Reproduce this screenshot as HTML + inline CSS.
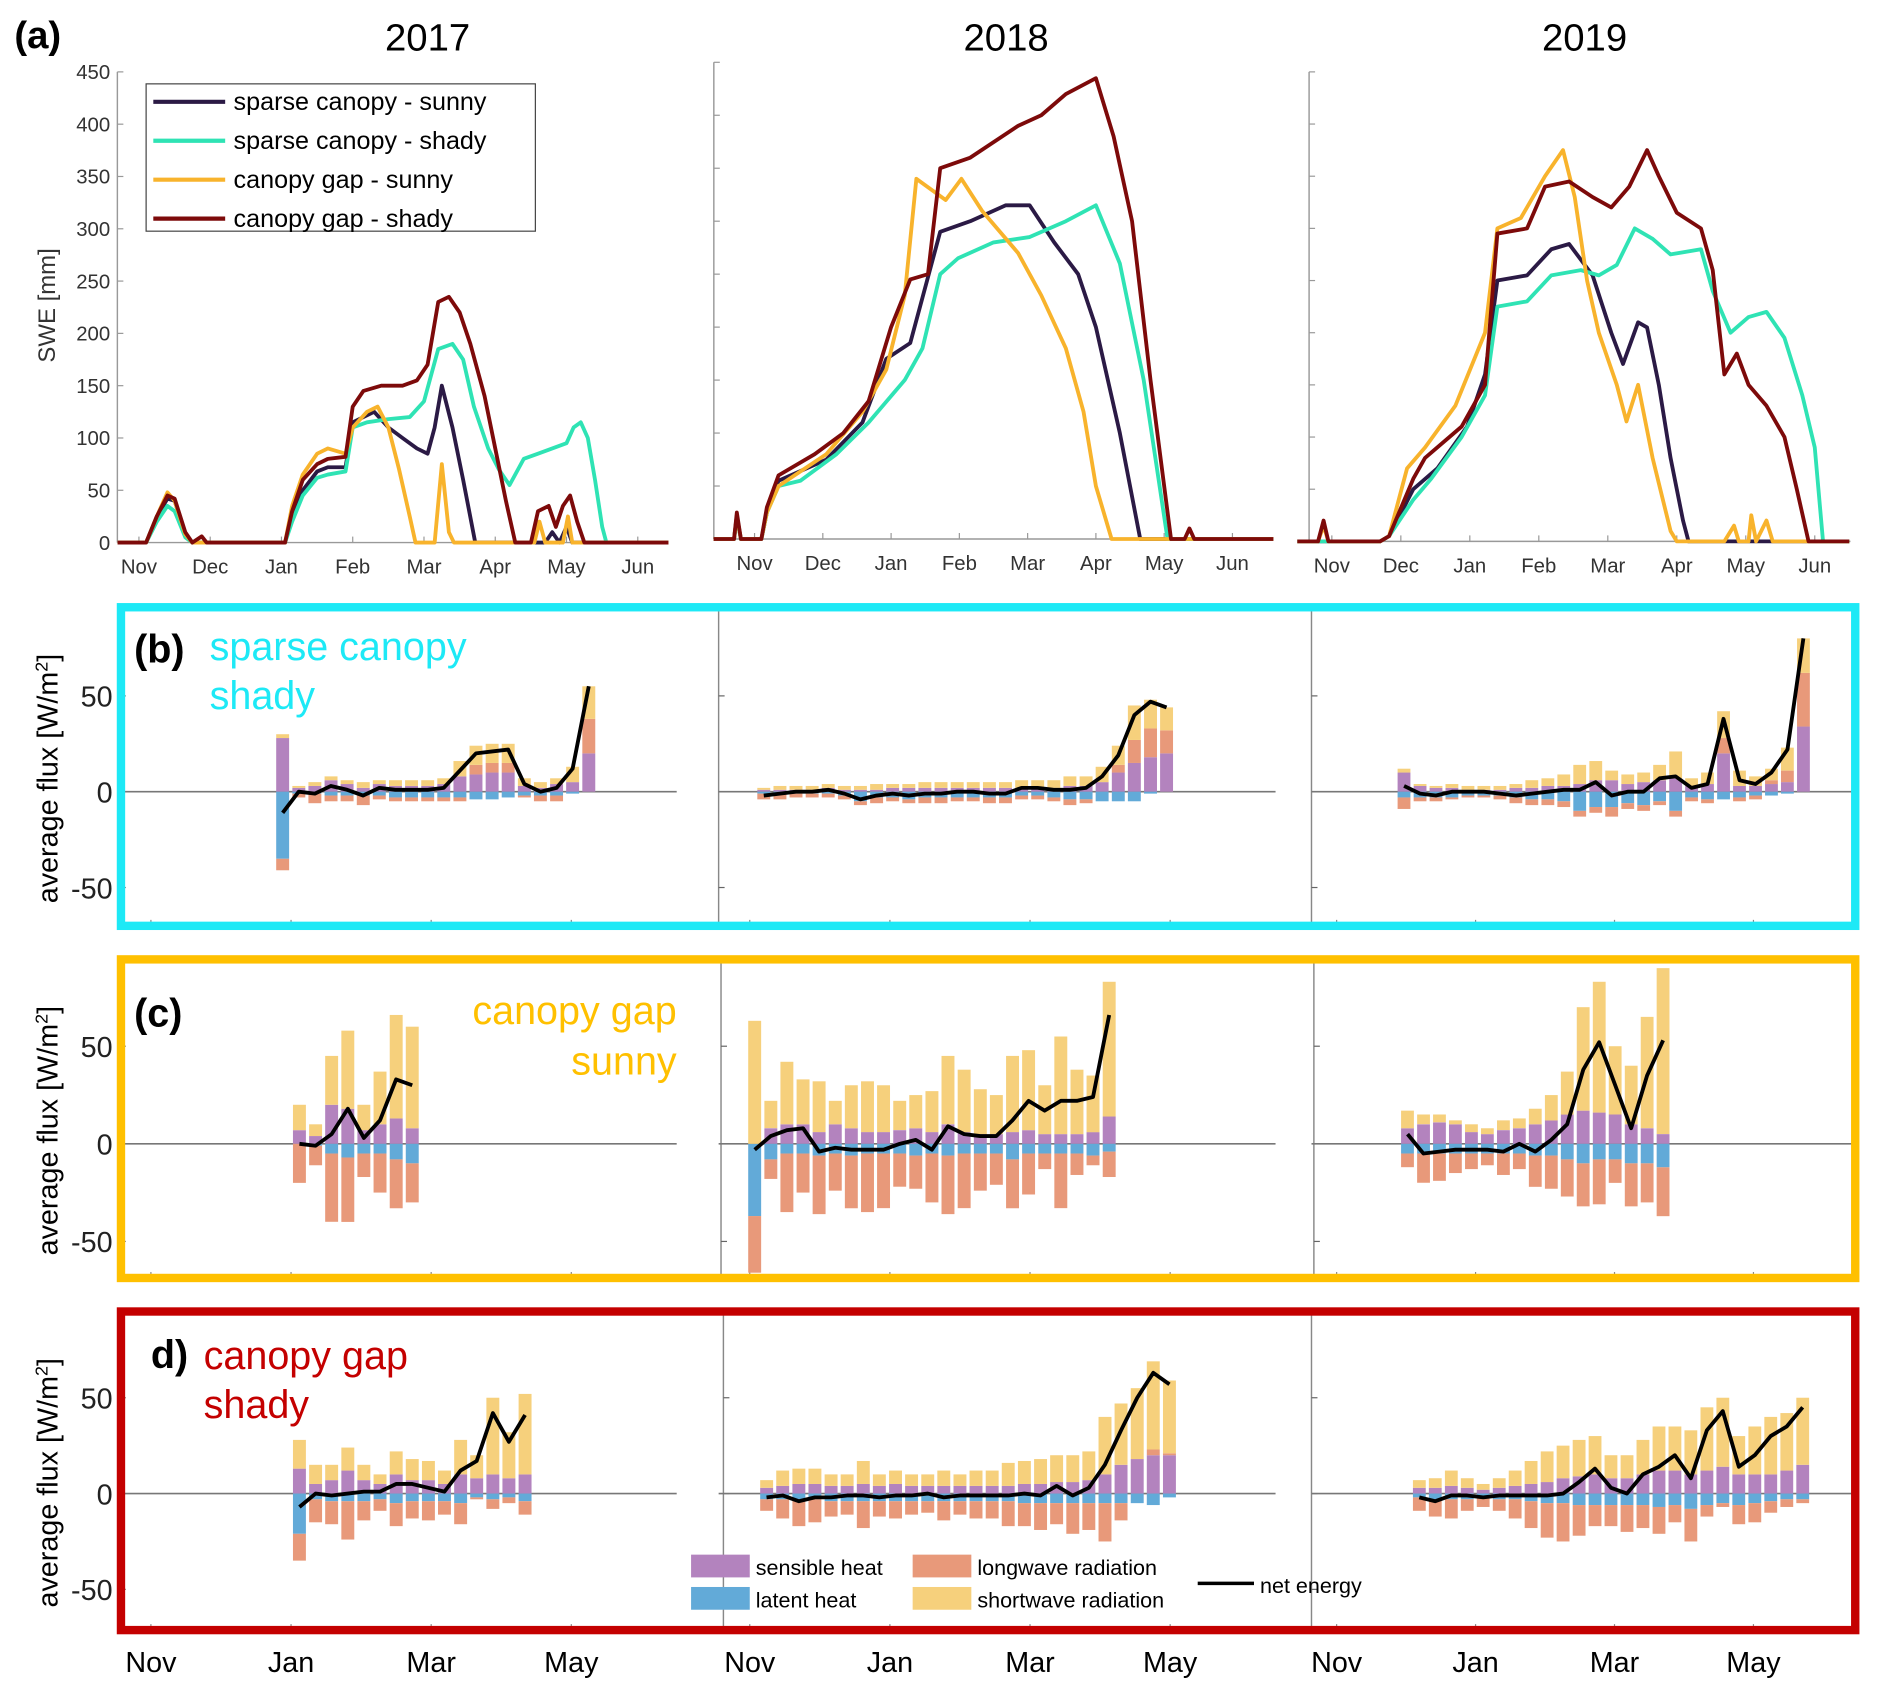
<!DOCTYPE html>
<html><head><meta charset="utf-8"><style>
html,body{margin:0;padding:0;background:#fff;}
svg{display:block;font-family:"Liberation Sans",Arial,sans-serif;}
</style></head><body>
<svg id="fig" width="1878" height="1690" viewBox="0 0 1568 1411" xmlns="http://www.w3.org/2000/svg">
<g id="layer"></g>
</svg>
<script>
// ---------- SWE data (month index: Nov=1 ... Jun=8) ----------
const seriesNames = ["sparse canopy - sunny","sparse canopy - shady","canopy gap - sunny","canopy gap - shady"];
const swe2017_sparseSunny=[[0.7,0],[1.1,0],[1.25,25],[1.4,42],[1.5,40],[1.65,8],[1.75,0],[3.05,0],[3.15,25],[3.3,50],[3.5,68],[3.65,72],[3.9,72],[4.0,115],[4.3,125],[4.5,110],[4.7,100],[4.9,90],[5.05,85],[5.15,110],[5.25,150],[5.4,110],[5.55,60],[5.72,0],[6.7,0],[6.8,10],[6.9,0],[7.0,15],[7.08,0],[8.43,0]];
const swe2017_sparseShady=[[0.7,0],[1.1,0],[1.25,20],[1.4,35],[1.5,30],[1.65,5],[1.75,0],[3.05,0],[3.15,20],[3.3,45],[3.5,62],[3.65,65],[3.9,68],[4.0,110],[4.2,115],[4.5,118],[4.8,120],[5.0,135],[5.2,185],[5.4,190],[5.55,175],[5.7,130],[5.9,90],[6.05,70],[6.2,55],[6.4,80],[6.6,85],[6.8,90],[7.0,95],[7.1,110],[7.2,115],[7.3,100],[7.4,60],[7.5,15],[7.56,0],[8.43,0]];
const swe2017_gapSunny=[[0.7,0],[1.1,0],[1.25,25],[1.4,48],[1.5,40],[1.65,8],[1.75,0],[3.05,0],[3.15,35],[3.3,65],[3.5,85],[3.65,90],[3.9,85],[4.0,110],[4.2,125],[4.35,130],[4.5,110],[4.65,70],[4.8,25],[4.88,0],[5.15,0],[5.25,75],[5.35,10],[5.42,0],[6.55,0],[6.62,20],[6.7,0],[6.95,0],[7.02,25],[7.08,0],[8.43,0]];
const swe2017_gapShady=[[0.7,0],[1.1,0],[1.25,25],[1.4,45],[1.5,42],[1.65,10],[1.75,0],[1.88,6],[1.95,0],[3.05,0],[3.15,30],[3.3,60],[3.5,75],[3.65,80],[3.9,82],[4.0,130],[4.15,145],[4.4,150],[4.7,150],[4.9,155],[5.05,170],[5.2,230],[5.35,235],[5.5,220],[5.65,190],[5.85,140],[6.0,90],[6.15,40],[6.28,0],[6.5,0],[6.6,30],[6.75,35],[6.85,15],[6.95,35],[7.05,45],[7.15,20],[7.25,0],[8.43,0]];
const swe2018_sparseSunny=[[0.4,0],[0.7,0],[0.74,22],[0.8,0],[1.1,0],[1.18,25],[1.35,55],[2.05,75],[2.58,110],[2.93,170],[3.28,185],[3.72,290],[4.16,300],[4.68,315],[5.03,315],[5.39,280],[5.74,250],[6.0,200],[6.35,100],[6.65,0],[8.6,0]];
const swe2018_sparseShady=[[0.4,0],[0.7,0],[0.74,20],[0.8,0],[1.1,0],[1.18,25],[1.35,50],[1.67,55],[2.2,80],[2.67,110],[3.2,150],[3.46,180],[3.72,250],[3.98,265],[4.5,280],[5.03,285],[5.56,300],[6.0,315],[6.35,260],[6.7,150],[7.05,0],[8.6,0]];
const swe2018_gapSunny=[[0.4,0],[0.7,0],[0.74,22],[0.8,0],[1.1,0],[1.18,25],[1.35,50],[2.05,80],[2.58,120],[2.93,160],[3.2,230],[3.37,340],[3.8,320],[4.03,340],[4.33,310],[4.86,270],[5.2,230],[5.56,180],[5.82,120],[6.0,50],[6.23,0],[8.6,0]];
const swe2018_gapShady=[[0.4,0],[0.7,0],[0.74,25],[0.8,0],[1.1,0],[1.18,30],[1.35,60],[1.88,80],[2.3,100],[2.67,130],[3.0,200],[3.28,245],[3.54,250],[3.72,350],[4.16,360],[4.86,390],[5.2,400],[5.56,420],[6.0,435],[6.26,380],[6.53,300],[6.8,150],[7.1,0],[7.3,0],[7.37,10],[7.44,0],[8.6,0]];
const swe2019_sparseSunny=[[0.5,0],[1.7,0],[1.83,5],[2.18,50],[2.53,70],[2.96,110],[3.22,160],[3.4,250],[3.83,255],[4.18,280],[4.44,285],[4.78,255],[5.05,200],[5.22,170],[5.44,210],[5.57,205],[5.74,150],[5.91,80],[6.09,20],[6.17,0],[8.5,0]];
const swe2019_sparseShady=[[0.5,0],[1.7,0],[1.83,5],[2.18,40],[2.44,60],[2.88,100],[3.22,140],[3.4,225],[3.83,230],[4.18,255],[4.61,260],[4.87,255],[5.13,265],[5.39,300],[5.65,290],[5.91,275],[6.35,280],[6.52,240],[6.78,200],[7.04,215],[7.3,220],[7.56,195],[7.82,140],[8.0,90],[8.12,0],[8.5,0]];
const swe2019_gapSunny=[[0.5,0],[0.8,0],[0.88,15],[0.95,0],[1.7,0],[1.83,5],[2.09,70],[2.35,90],[2.79,130],[3.22,200],[3.4,300],[3.74,310],[4.09,350],[4.35,375],[4.52,330],[4.7,250],[4.87,200],[5.13,150],[5.27,115],[5.44,150],[5.65,80],[5.91,10],[6.0,0],[6.69,0],[6.83,15],[6.9,0],[7.04,0],[7.08,25],[7.15,0],[7.3,20],[7.39,0],[8.5,0]];
const swe2019_gapShady=[[0.5,0],[0.8,0],[0.88,20],[0.95,0],[1.7,0],[1.83,5],[2.18,60],[2.35,80],[2.88,110],[3.22,150],[3.4,295],[3.83,300],[4.09,340],[4.44,345],[4.78,330],[5.05,320],[5.31,340],[5.57,375],[5.74,350],[6.0,315],[6.35,300],[6.52,260],[6.69,160],[6.87,180],[7.04,150],[7.3,130],[7.56,100],[7.74,50],[7.91,0],[8.5,0]];
const sweTicks=[0,50,100,150,200,250,300,350,400,450];
const monthLabels=["Nov","Dec","Jan","Feb","Mar","Apr","May","Jun"];
const fluxMonthLabels=["Nov","Jan","Mar","May"];
const fluxTicks=[50,0,-50];
const years=["2017","2018","2019"];

// ---------- flux data (weekly bars, W/m2) ----------
const start_b2017=2.88, start_b2018=1.2, start_b2019=1.97;
const start_c2017=3.12, start_c2018=1.07, start_c2019=2.02;
const start_d2017=3.12, start_d2018=1.24, start_d2019=2.19;
const sens_b2017=[28,2,3,6,4,2,4,3,3,3,4,8,9,10,10,3,2,4,5,20];
const lat_b2017=[-35,-1,-1,-2,-2,-2,-2,-3,-3,-3,-3,-3,-4,-4,-3,-2,-2,-2,-1,0];
const lw_b2017=[-6,-2,-5,-3,-3,-5,-2,-2,-2,-2,-2,-2,5,5,5,-1,-3,-3,0,18];
const sw_b2017=[2,1,2,2,2,3,2,3,3,3,3,8,10,10,10,4,3,3,8,17];
const sens_b2018=[1,1,1,1,2,1,1,1,2,2,2,2,2,2,2,2,2,2,2,3,3,5,10,15,18,20];
const lat_b2018=[-1,-1,-1,-1,-1,-2,-5,-3,-3,-4,-3,-3,-3,-3,-3,-3,-2,-2,-3,-4,-4,-5,-5,-5,-1,0];
const lw_b2018=[-3,-3,-2,-2,-2,-2,-2,-3,-2,-2,-3,-3,-2,-2,-3,-3,-2,-2,-2,-3,-2,0,4,12,15,12];
const sw_b2018=[1,2,2,2,2,2,2,3,2,2,3,3,3,3,3,3,4,4,4,5,5,8,10,18,15,12];
const sens_b2019=[10,3,2,2,1,1,1,2,2,3,3,4,6,6,4,5,6,7,3,4,20,3,3,4,5,34];
const lat_b2019=[-3,-3,-3,-3,-2,-2,-2,-3,-4,-4,-5,-10,-8,-8,-6,-7,-5,-10,-3,-4,-4,-3,-2,-2,-1,0];
const lw_b2019=[-6,-2,-2,-1,-1,-1,-2,-3,-3,-3,-3,-3,-3,-5,-3,-3,-2,-3,-2,-2,8,-2,-2,2,6,28];
const sw_b2019=[2,1,1,2,2,2,2,2,4,4,6,10,10,5,5,5,8,14,4,6,14,8,5,6,12,18];
const sens_c2017=[7,4,20,18,7,10,13,8];
const lat_c2017=[0,-1,-5,-7,-5,-5,-8,-10];
const lw_c2017=[-20,-10,-35,-33,-12,-20,-25,-20];
const sw_c2017=[13,6,25,40,13,27,53,52];
const sens_c2018=[0,8,10,10,6,10,8,6,6,7,8,6,10,6,5,5,6,7,5,5,5,6,14];
const lat_c2018=[-37,-8,-5,-5,-6,-5,-6,-5,-5,-5,-6,-5,-6,-5,-5,-5,-8,-5,-5,-5,-5,-6,-4];
const lw_c2018=[-29,-10,-30,-20,-30,-19,-27,-30,-28,-17,-17,-25,-30,-28,-19,-16,-25,-21,-8,-28,-11,-5,-13];
const sw_c2018=[63,14,32,23,26,12,22,26,24,15,17,21,35,32,23,20,39,41,25,50,33,29,69];
const sens_c2019=[8,10,11,10,6,5,7,8,10,12,15,17,16,15,10,8,5];
const lat_c2019=[-5,-5,-5,-5,-5,-5,-5,-5,-6,-6,-8,-10,-8,-8,-10,-10,-12];
const lw_c2019=[-7,-15,-14,-10,-8,-6,-11,-8,-16,-17,-19,-22,-23,-12,-22,-20,-25];
const sw_c2019=[9,5,4,2,4,3,5,5,8,13,22,53,67,35,30,57,85];
const sens_d2017=[13,5,7,12,7,5,10,7,7,5,10,8,10,8,10];
const lat_d2017=[-21,-3,-4,-4,-4,-3,-5,-4,-4,-4,-5,-2,-3,-2,-4];
const lw_d2017=[-14,-12,-12,-20,-10,-6,-12,-9,-10,-7,-11,-1,-5,-3,-7];
const sw_d2017=[15,10,8,12,8,5,12,11,10,7,18,12,40,24,42];
const sens_d2018=[3,4,5,5,4,4,5,4,5,4,4,4,4,4,4,4,5,5,6,6,7,10,15,18,20,20];
const lat_d2018=[-3,-3,-3,-3,-4,-4,-4,-4,-4,-4,-4,-4,-4,-4,-4,-4,-5,-5,-5,-5,-5,-5,-5,-5,-6,-2];
const lw_d2018=[-6,-10,-14,-12,-8,-7,-14,-8,-9,-7,-6,-10,-7,-9,-9,-13,-12,-14,-11,-16,-14,-20,-9,0,3,1];
const sw_d2018=[4,8,8,8,6,6,12,6,7,6,6,8,6,8,8,12,12,13,14,14,15,30,32,37,46,38];
const sens_d2019=[3,3,4,3,2,3,4,5,6,8,9,10,8,8,10,12,12,10,12,14,10,10,10,12,15];
const lat_d2019=[-2,-3,-3,-3,-2,-3,-3,-4,-5,-5,-6,-6,-6,-6,-6,-7,-6,-8,-6,-5,-6,-5,-4,-3,-3];
const lw_d2019=[-7,-9,-10,-6,-5,-6,-10,-14,-18,-20,-16,-11,-11,-14,-12,-14,-9,-17,-6,-2,-10,-10,-6,-4,-2];
const sw_d2019=[4,5,8,5,3,5,8,12,16,17,19,20,12,12,18,23,23,23,33,36,20,25,30,30,35];

// ---------- rendering ----------
const NS="http://www.w3.org/2000/svg";
const root=document.getElementById('layer');
function mk(tag,attrs,parent,txt){const e=document.createElementNS(NS,tag);for(const k in attrs)e.setAttribute(k,attrs[k]);if(txt!==undefined)e.textContent=txt;(parent||root).appendChild(e);return e;}
const lineColors=["#2b1a45","#2fe3b4","#f8b32c","#7d0a0a"];
const C={sens:"#b383be",lat:"#62aad8",lw:"#e8997a",sw:"#f6d07c"};

// Panel (a)
const sweGeom=[{x0:98,x1:558,nov:116,mw:59.5,y0:453,top:60,tx:357},{x0:596,x1:1058,nov:630,mw:57,y0:450,top:52,tx:840},{x0:1093,x1:1545,nov:1112,mw:57.6,y0:452,top:60,tx:1323}];
const sweData=[[swe2017_sparseSunny,swe2017_sparseShady,swe2017_gapSunny,swe2017_gapShady],[swe2018_sparseSunny,swe2018_sparseShady,swe2018_gapSunny,swe2018_gapShady],[swe2019_sparseSunny,swe2019_sparseShady,swe2019_gapSunny,swe2019_gapShady]];
let t=mk('text',{x:12,y:40,'font-size':32,'font-weight':'bold'},root,'(a)');


sweGeom.forEach((g,i)=>{
  const sx=m=>g.nov+(m-1)*g.mw;
  const sy=v=>g.y0-v*(g.y0-g.top)/450;
  const grp=mk('g',{});
  
  
  let tt=mk('text',{x:g.tx,y:42,'font-size':32,'text-anchor':'middle'},grp,years[i]);
  
  
  mk('line',{x1:g.x0,y1:g.top,x2:g.x0,y2:g.y0,stroke:'#999','stroke-width':1.2},grp);
  mk('line',{x1:g.x0,y1:g.y0,x2:g.x1,y2:g.y0,stroke:'#999','stroke-width':1.2},grp);
  sweTicks.forEach(v=>{
    mk('line',{x1:g.x0,y1:sy(v),x2:g.x0+5,y2:sy(v),stroke:'#999'},grp);
    if(i===0){const l=mk('text',{x:g.x0-6,y:sy(v)+6,'font-size':17,'text-anchor':'end',fill:'#333'},grp,String(v));
      
      }
  });
  monthLabels.forEach((ml,k)=>{
    mk('line',{x1:sx(k+1),y1:g.y0,x2:sx(k+1),y2:g.y0-5,stroke:'#999'},grp);
    const l=mk('text',{x:sx(k+1),y:g.y0+26,'font-size':17,'text-anchor':'middle',fill:'#333'},grp,ml);
    
    
  });
  sweData[i].forEach((s,j)=>{
    const p=mk('polyline',{points:s.map(d=>sx(d[0]).toFixed(1)+','+sy(d[1]).toFixed(1)).join(' '),fill:'none',stroke:lineColors[j],'stroke-width':3.2,'stroke-linejoin':'round'},grp);
    
    
  });
});
t=mk('text',{x:0,y:0,'font-size':20,'text-anchor':'middle',fill:'#333',transform:'translate(46,255) rotate(-90)'},root,'SWE [mm]');


// legend a
const lg=mk('g',{});


mk('rect',{x:122,y:70,width:325,height:123,fill:'#fff',stroke:'#444','stroke-width':1},lg);
seriesNames.forEach((n,j)=>{
  const y=85+j*32.5;
  mk('line',{x1:128,y1:y,x2:188,y2:y,stroke:lineColors[j],'stroke-width':3.5},lg);
  const e=mk('text',{x:195,y:y+7,'font-size':21},lg,n);
  
  
});

// Flux panels
const cols=[{nov:126,mw:58.5,x0:100,x1:565},{nov:626,mw:58.5,x0:600,x1:1065},{nov:1116,mw:58,x0:1095,x1:1548}];
const rows=[
 {name:'b',y0:661,k:1.6,top:507,bot:773,color:'#1de9f6',div:[600,1095]},
 {name:'c',y0:955,k:1.63,top:801,bot:1067,color:'#ffc000',div:[602,1097]},
 {name:'d',y0:1247,k:1.6,top:1095,bot:1361,color:'#c40000',div:[604,1095]}];
const fluxData={
 b:[[start_b2017,sens_b2017,lat_b2017,lw_b2017,sw_b2017],[start_b2018,sens_b2018,lat_b2018,lw_b2018,sw_b2018],[start_b2019,sens_b2019,lat_b2019,lw_b2019,sw_b2019]],
 c:[[start_c2017,sens_c2017,lat_c2017,lw_c2017,sw_c2017],[start_c2018,sens_c2018,lat_c2018,lw_c2018,sw_c2018],[start_c2019,sens_c2019,lat_c2019,lw_c2019,sw_c2019]],
 d:[[start_d2017,sens_d2017,lat_d2017,lw_d2017,sw_d2017],[start_d2018,sens_d2018,lat_d2018,lw_d2018,sw_d2018],[start_d2019,sens_d2019,lat_d2019,lw_d2019,sw_d2019]]};
const weekM=7/30.44;
rows.forEach(r=>{
  const pg=mk('g',{});
  
  
  const sy=v=>r.y0-v*r.k;
  r.div.forEach(x=>mk('line',{x1:x,y1:r.top,x2:x,y2:r.bot,stroke:'#888','stroke-width':1.2},pg));
  cols.forEach((c,i)=>{
    const sx=m=>c.nov+(m-1)*c.mw;
    const ax=i===0?100:r.div[i-1];
    fluxTicks.forEach(v=>{mk('line',{x1:ax,y1:sy(v),x2:ax+5,y2:sy(v),stroke:'#666'},pg);});
    [1,3,5,7].forEach(m=>mk('line',{x1:sx(m),y1:r.bot,x2:sx(m),y2:r.bot-5,stroke:'#888'},pg));
    mk('line',{x1:c.x0,y1:r.y0,x2:c.x1,y2:r.y0,stroke:'#777','stroke-width':1.3},pg);
    const d=fluxData[r.name][i];
    const st=d[0],sens=d[1],lat=d[2],lw=d[3],sw=d[4];
    const bw=0.8*weekM*c.mw;
    const pts=[];
    sens.forEach((_,w)=>{
      const cx=sx(st+w*weekM);
      let pos=0,neg=0;
      [['sens',sens[w]],['lat',lat[w]],['lw',lw[w]],['sw',sw[w]]].forEach(([key,v])=>{
        let y1,y2;
        if(v>=0){y1=pos;y2=pos+v;pos=y2;}else{y1=neg;y2=neg+v;neg=y2;}
        const b=mk('rect',{x:(cx-bw/2).toFixed(1),y:Math.min(sy(y1),sy(y2)).toFixed(1),width:bw.toFixed(1),height:Math.abs(v*r.k).toFixed(1),fill:C[key]},pg);
        
        
      });
      pts.push(cx.toFixed(1)+','+sy(sens[w]+lat[w]+lw[w]+sw[w]).toFixed(1));
    });
    const nl=mk('polyline',{points:pts.join(' '),fill:'none',stroke:'#000','stroke-width':3.2,'stroke-linejoin':'round'},pg);
    
    
  });
  fluxTicks.forEach(v=>{
    const l=mk('text',{x:94,y:sy(v)+9,'font-size':24,'text-anchor':'end',fill:'#222'},pg,String(v));
    
    
  });
  const yl=mk('text',{x:0,y:0,'font-size':24,'text-anchor':'middle',transform:`translate(48,${(r.top+r.bot)/2+10}) rotate(-90)`},pg);
  
  
  yl.innerHTML='average  flux [W/m<tspan baseline-shift="super" font-size="15">2</tspan>]';
  const bx=mk('rect',{x:101,y:r.top,width:1448,height:r.bot-r.top,fill:'none',stroke:r.color,'stroke-width':7},pg);
  
  
});
function label(x,y,txt,opts,name){const e=mk('text',Object.assign({x:x,y:y,'font-size':33},opts),root,txt);return e;}
label(112,553,'(b)',{'font-weight':'bold'},'panel-b-label');
label(175,551,'sparse canopy',{fill:'#1de9f6'},'panel-b-title');
label(175,592,'shady',{fill:'#1de9f6'},'panel-b-subtitle');
label(112,857,'(c)',{'font-weight':'bold'},'panel-c-label');
label(565,855,'canopy gap',{fill:'#ffc000','text-anchor':'end'},'panel-c-title');
label(565,897,'sunny',{fill:'#ffc000','text-anchor':'end'},'panel-c-subtitle');
label(126,1142,'d)',{'font-weight':'bold'},'panel-d-label');
label(170,1143,'canopy gap',{fill:'#c40000'},'panel-d-title');
label(170,1184,'shady',{fill:'#c40000'},'panel-d-subtitle');
// flux x labels
cols.forEach(c=>{[1,3,5,7].forEach((m,k)=>{label(c.nov+(m-1)*c.mw,1396,fluxMonthLabels[k],{'font-size':24,'text-anchor':'middle'},'flux-x-tick-label');});});
// legend d
const leg=[['sens','sensible heat',577,1298],['lat','latent heat',577,1325],['lw','longwave radiation',762,1298],['sw','shortwave radiation',762,1325]];
leg.forEach(([k,n,x,y])=>{
  const r=mk('rect',{x:x,y:y,width:49,height:19,fill:C[k]});
  
  
  label(x+54,y+17,n,{'font-size':18},'legend-entry');
});
mk('line',{x1:1000,y1:1322,x2:1047,y2:1322,stroke:'#000','stroke-width':3});
label(1052,1330,'net energy',{'font-size':18},'legend-entry');
</script>
</body></html>
